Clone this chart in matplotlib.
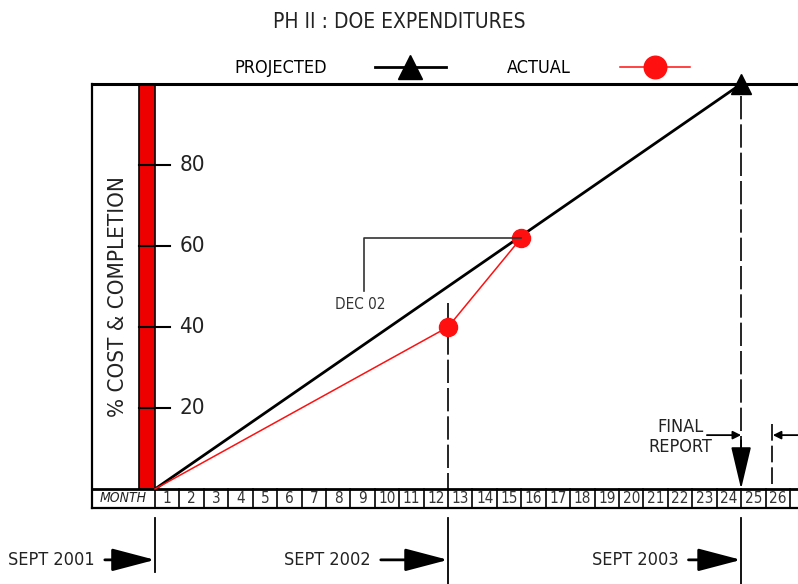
import matplotlib.pyplot as plt
import numpy as np

plt.rcParams['font.family'] = ['DejaVu Sans']
plt.rcParams['font.stretch'] = 'condensed'

# data
proj_months = [0, 24]
proj_pct = [0, 100]
actual_months = [0, 12, 15]
actual_pct = [0, 40, 62]
y_ticks = [20, 40, 60, 80]
month_labels = list(range(1, 27))
date_labels = ["SEPT 2001", "SEPT 2002", "SEPT 2003"]
date_months = [0, 12, 24]

fig = plt.figure(figsize=(7.98, 5.84), dpi=100)
ax = fig.add_axes([0, 0, 1, 1])
ax.set_xlim(-6.347, 26.33)
ax.set_ylim(-23.46, 120.74)
ax.axis("off")

box_left = -2.58
row_bot = -4.69

# frame: top line and left edge
ax.plot([box_left, 26.33], [100, 100], color="black", lw=2.2)
ax.plot([box_left, box_left], [row_bot, 100], color="black", lw=1.6)

# red bar
ax.bar(-0.33, 100, width=0.655, color="#ee0000", edgecolor="black", lw=1.2)

# y ticks
for t in y_ticks:
    ax.plot([-0.655, 0.6], [t, t], color="black", lw=1.5)
    ax.text(1.0, t, str(t), fontsize=16, va="center", ha="left", color="#222222")

ax.text(-1.52, 47.5, "% COST & COMPLETION", rotation=90, fontsize=16,
        ha="center", va="center", color="#222222")

# month row
ax.plot([box_left, 26.33], [0, 0], color="black", lw=2)
ax.plot([box_left, 26.33], [row_bot, row_bot], color="black", lw=1.6)
for b in range(0, 27):
    ax.plot([b, b], [0, row_bot], color="black", lw=1.2)
ax.text((box_left) / 2, row_bot / 2, "MONTH", fontsize=10, ha="center",
        va="center", style="italic", color="#222222")
for m in month_labels:
    ax.text(m - 0.5, row_bot / 2, str(m), fontsize=11, ha="center",
            va="center", color="#333333")

# dashed guides
ax.plot([12, 12], [46, 0], color="black", lw=1.2, dashes=(14, 3))
ax.plot([24, 24], [97, 10], color="black", lw=1.2, dashes=(14, 3))
ax.plot([25.25, 25.25], [16, 0], color="black", lw=1.2, dashes=(10, 3))

# lines
ax.plot(proj_months, proj_pct, color="black", lw=2, marker="^", ms=14,
        markevery=[1], label="PROJECTED")
ax.plot(actual_months, actual_pct, color="#ff1010", lw=1.1, marker="o", ms=13,
        markevery=[1, 2], label="ACTUAL")

# DEC 02 leader
ax.plot([15, 8.55, 8.55], [62, 62, 49], color="#333333", lw=1.2)
ax.text(8.4, 45.5, "DEC 02", fontsize=11, ha="center", va="center",
        color="#333333")

# final report
ax.text(21.5, 12.8, "FINAL\nREPORT", fontsize=13, ha="center", va="center",
        linespacing=1.1, color="#222222")
ax.annotate("", xy=(24, 13.3), xytext=(22.6, 13.3),
            arrowprops=dict(arrowstyle="-|>", color="black", lw=1.3,
                            mutation_scale=12, shrinkA=0, shrinkB=0))
ax.annotate("", xy=(25.3, 13.3), xytext=(26.33, 13.3),
            arrowprops=dict(arrowstyle="-|>", color="black", lw=1.3,
                            mutation_scale=12, shrinkA=0, shrinkB=0))
ax.annotate("", xy=(24, 0), xytext=(24, 12),
            arrowprops=dict(arrowstyle="-|>,head_length=1.9,head_width=0.45",
                            color="black", lw=1.3, mutation_scale=14,
                            shrinkA=0, shrinkB=0))

# bottom date markers
for lab, m, off in zip(date_labels, date_months, [6.0, 6.7, 6.1]):
    bot = -20.5 if m == 0 else -23.46
    ax.plot([m, m], [-7.2, bot], color="black", lw=1.3)
    ax.annotate(lab, xy=(m, -17.5), xytext=(m - off, -17.5), fontsize=13,
                ha="left", va="center", color="#222222",
                arrowprops=dict(arrowstyle="-|>,head_length=1.9,head_width=0.5",
                                color="black", lw=2, mutation_scale=14,
                                shrinkA=5, shrinkB=0))

# title and legend
fig.text(0.5, 1 - 22 / 584, "PH II : DOE EXPENDITURES", fontsize=15,
         ha="center", va="center", color="#222222")
ax.legend(loc="center", bbox_to_anchor=(462 / 798, 1 - 68 / 584),
          bbox_transform=fig.transFigure, ncol=2, frameon=False,
          markerfirst=False, fontsize=13, handlelength=3.9, markerscale=1.25,
          handletextpad=2.7, columnspacing=3.4)

fig.savefig("out.png", dpi=100)
